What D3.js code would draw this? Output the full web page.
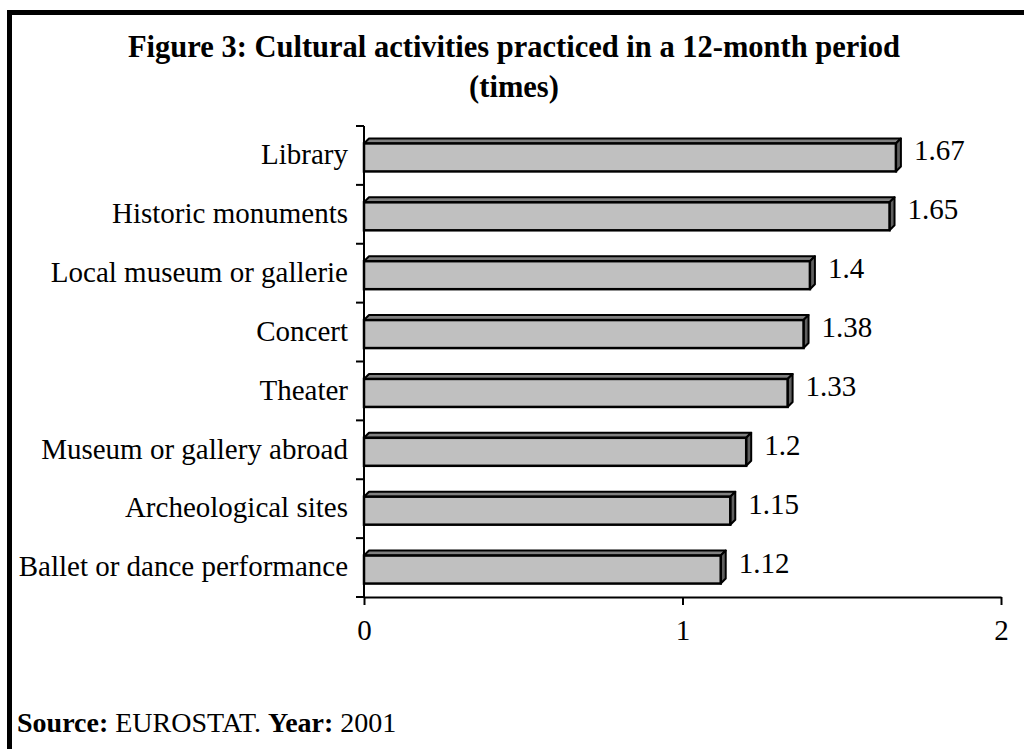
<!DOCTYPE html>
<html>
<head>
<meta charset="utf-8">
<script src="https://cdn.jsdelivr.net/npm/d3@7"></script>
<style>
  body { margin: 0; background: #fff; }
  text { font-family: "Liberation Serif", "Times New Roman", serif; }
</style>
</head>
<body>
<div id="chart"></div>
<script>
const categories = ['Library', 'Historic monuments', 'Local museum or gallerie', 'Concert',
  'Theater', 'Museum or gallery abroad', 'Archeological sites', 'Ballet or dance performance']
const values = [1.67, 1.65, 1.4, 1.38, 1.33, 1.2, 1.15, 1.12]
const xTicks = [0, 1, 2]
const titleLines = ['Figure 3: Cultural activities practiced in a 12-month period', '(times)']

;(function () {
  const W = 1024
  const H = 749
  const margin = { top: 126, right: 21, bottom: 152, left: 364 }
  const width = W - margin.left - margin.right
  const height = H - margin.top - margin.bottom

  const root = d3.select('#chart').append('svg')
    .attr('width', W)
    .attr('height', H)

  // outer frame (runs off the right/bottom edges)
  root.append('rect')
    .attr('x', 9.5).attr('y', 12.5)
    .attr('width', 1100).attr('height', 800)
    .attr('fill', 'none').attr('stroke', '#000').attr('stroke-width', 5)

  root.selectAll('.title')
    .data(titleLines)
    .enter().append('text')
    .attr('class', 'title')
    .attr('x', 514)
    .attr('y', (d, i) => 57 + i * 40)
    .attr('text-anchor', 'middle')
    .attr('font-weight', 'bold')
    .attr('font-size', 30.5)
    .text(d => d)

  const svg = root.append('g')
    .attr('transform', 'translate(' + margin.left + ',' + margin.top + ')')

  const xPositionScale = d3.scaleLinear()
    .domain([0, 2])
    .range([0, width - 2])

  const yPositionScale = d3.scaleBand()
    .domain(categories)
    .range([0, height])
    .paddingInner(0)

  const barH = 28
  const dx = 5
  const dy = 5

  const bars = svg.selectAll('.bar')
    .data(categories)
    .enter().append('g')
    .attr('class', 'bar')
    .attr('transform', d => 'translate(0,' + (yPositionScale(d) + yPositionScale.bandwidth() / 2 - barH / 2 + 2) + ')')

  // top face
  bars.append('path')
    .attr('d', (d, i) => {
      const w = xPositionScale(values[i])
      return 'M0,0 L' + dx + ',' + (-dy) + ' L' + (w + dx) + ',' + (-dy) + ' L' + w + ',0 Z'
    })
    .attr('fill', '#808080').attr('stroke', '#000').attr('stroke-width', 2).attr('stroke-linejoin', 'round')

  // side face
  bars.append('path')
    .attr('d', (d, i) => {
      const w = xPositionScale(values[i])
      return 'M' + w + ',0 L' + (w + dx) + ',' + (-dy) + ' L' + (w + dx) + ',' + (barH - dy) + ' L' + w + ',' + barH + ' Z'
    })
    .attr('fill', '#606060').attr('stroke', '#000').attr('stroke-width', 2).attr('stroke-linejoin', 'round')

  // front face
  bars.append('rect')
    .attr('x', 0).attr('y', 0)
    .attr('width', (d, i) => xPositionScale(values[i]))
    .attr('height', barH)
    .attr('fill', '#c0c0c0').attr('stroke', '#000').attr('stroke-width', 2.5)

  bars.append('text')
    .attr('x', (d, i) => xPositionScale(values[i]) + dx + 13)
    .attr('y', 17)
    .attr('font-size', 29)
    .text((d, i) => values[i])

  // y axis: labels centred in bands, ticks drawn at band boundaries
  const yAxis = d3.axisLeft(yPositionScale).tickSize(0).tickPadding(16)
  svg.append('g')
    .attr('class', 'axis y-axis')
    .call(yAxis)
    .call(g => g.select('.domain').remove())
    .call(g => g.selectAll('text').attr('font-size', 29).attr('font-family', '"Liberation Serif", serif').attr('fill', '#000').attr('dy', '0.3em'))

  svg.append('line')
    .attr('x1', 0).attr('x2', 0).attr('y1', 0).attr('y2', height)
    .attr('stroke', '#000').attr('stroke-width', 2)

  svg.selectAll('.ytick')
    .data(d3.range(categories.length + 1))
    .enter().append('line')
    .attr('x1', -8).attr('x2', 0)
    .attr('y1', i => i * yPositionScale.step())
    .attr('y2', i => i * yPositionScale.step())
    .attr('stroke', '#000').attr('stroke-width', 2)

  const xAxis = d3.axisBottom(xPositionScale)
    .tickValues(xTicks)
    .tickFormat(d3.format('d'))
    .tickSize(8)
    .tickPadding(14)
    .tickSizeOuter(0)

  svg.append('g')
    .attr('class', 'axis x-axis')
    .attr('transform', 'translate(0,' + height + ')')
    .call(xAxis)
    .call(g => g.selectAll('line, path').attr('stroke-width', 2))
    .call(g => g.selectAll('text').attr('font-size', 29).attr('font-family', '"Liberation Serif", serif').attr('fill', '#000'))

  const source = root.append('text')
    .attr('x', 17).attr('y', 732)
    .attr('font-size', 28)
  source.append('tspan').attr('font-weight', 'bold').text('Source:')
  source.append('tspan').text(' EUROSTAT. ')
  source.append('tspan').attr('font-weight', 'bold').text('Year:')
  source.append('tspan').text(' 2001')
})()
</script>
</body>
</html>
